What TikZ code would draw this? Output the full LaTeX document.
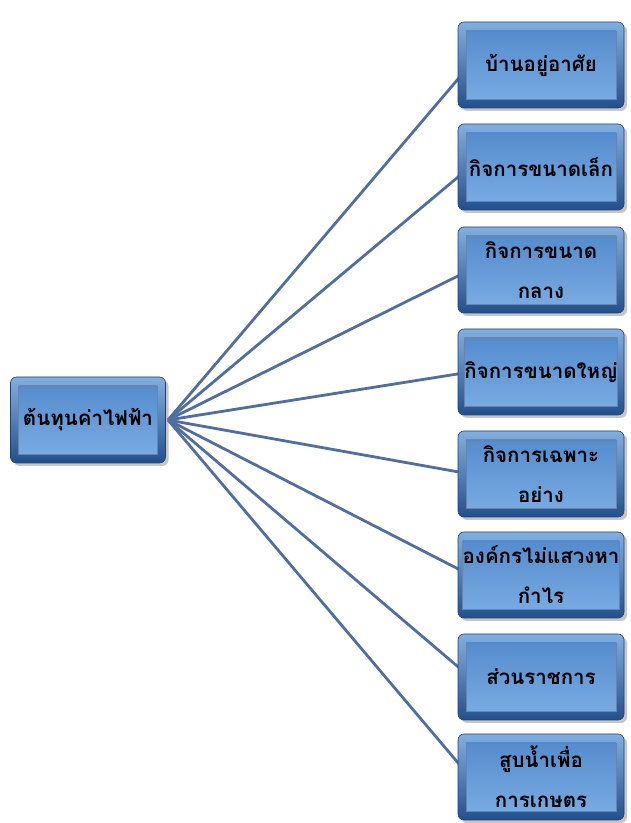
\documentclass[tikz,border=0pt]{standalone}
\usepackage{fontspec}
\newfontfamily\thaifont[Script=Thai]{Loma}
\usetikzlibrary{shadows}
\definecolor{linec}{RGB}{80,110,160}
\definecolor{outertop}{RGB}{130,175,225}
\definecolor{outerbot}{RGB}{35,80,140}
\definecolor{innertop}{RGB}{85,140,205}
\definecolor{innerbot}{RGB}{120,170,225}
\definecolor{edgec}{RGB}{30,65,110}
\tikzset{
  outerbox/.style={rectangle, rounded corners=6pt, minimum width=#1, minimum height=86pt,
    draw=edgec, line width=0.6pt, top color=outertop, bottom color=outerbot,
    drop shadow={opacity=0.45, shadow xshift=3pt, shadow yshift=-3pt}, inner sep=0pt},
  innerbox/.style={rectangle, minimum width=#1, minimum height=68pt,
    top color=innertop, bottom color=innerbot, draw=outerbot!70, line width=0.4pt,
    inner sep=0pt, font=\thaifont\bfseries\fontsize{20.5}{40}\selectfont, align=center, text=black},
  conn/.style={draw=linec, line width=2.8pt}
}
\begin{document}
\begin{tikzpicture}[x=1pt,y=1pt]
\useasboundingbox (0,0) rectangle (631,823);
\coordinate (hub) at (168,403);
\foreach \n/\yy in {1/65,2/167,3/270,4/372,5/474,6/575,7/677,8/777}{
  \coordinate (t\n) at (470,823-\yy);
  \draw[conn] (hub) -- (t\n);
}
\node[outerbox=155pt] (src) at (88,403) {};
\node[innerbox=139pt] (srci) at (src.center) {ต้นทุนค่าไฟฟ้า};
\node[outerbox=166pt] (b1) at (541,823-65) {};
\node[innerbox=150pt] at (b1.center) {บ้านอยู่อาศัย};
\node[outerbox=166pt] (b2) at (541,823-167) {};
\node[innerbox=150pt] at (b2.center) {กิจการขนาดเล็ก};
\node[outerbox=166pt] (b3) at (541,823-270) {};
\node[innerbox=150pt] at (b3.center) {กิจการขนาด\\กลาง};
\node[outerbox=166pt] (b4) at (541,823-372) {};
\node[innerbox=150pt] at (b4.center) {กิจการขนาดใหญ่};
\node[outerbox=166pt] (b5) at (541,823-474) {};
\node[innerbox=150pt] at (b5.center) {กิจการเฉพาะ\\อย่าง};
\node[outerbox=166pt] (b6) at (541,823-575) {};
\node[innerbox=150pt] at (b6.center) {องค์กรไม่แสวงหา\\กำไร};
\node[outerbox=166pt] (b7) at (541,823-677) {};
\node[innerbox=150pt] at (b7.center) {ส่วนราชการ};
\node[outerbox=166pt] (b8) at (541,823-777) {};
\node[innerbox=150pt] at (b8.center) {สูบน้ำเพื่อ\\การเกษตร};
\end{tikzpicture}
\end{document}
